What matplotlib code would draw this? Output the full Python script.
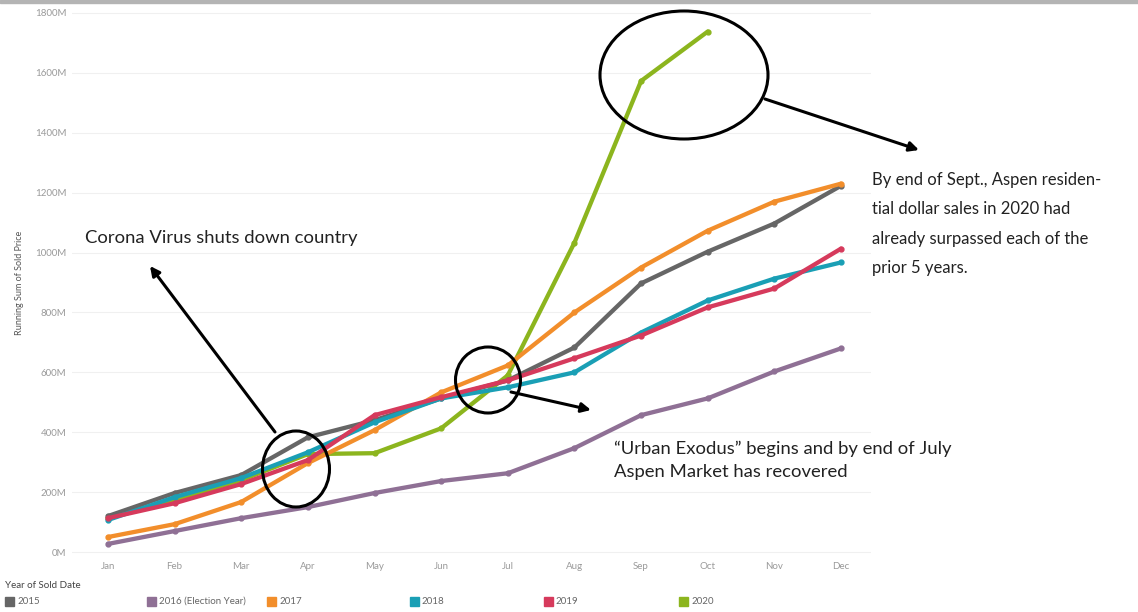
import matplotlib.pyplot as plt
from matplotlib.patches import Ellipse, Rectangle

plt.rcParams['font.family'] = ['Lato', 'DejaVu Sans']

# data (running sum of sold price, millions)
months = ['Jan', 'Feb', 'Mar', 'Apr', 'May', 'Jun', 'Jul', 'Aug', 'Sep', 'Oct', 'Nov', 'Dec']
years = ['2015', '2016 (Election Year)', '2017', '2018', '2019', '2020']
colors = ['#666666', '#8f7095', '#f28e2b', '#1a9fb5', '#d63a5c', '#8cb51e']

s2015 = [120, 197, 257, 383, 440, 513, 573, 683, 897, 1003, 1097, 1223]
s2016 = [27, 70, 113, 150, 197, 237, 263, 347, 457, 513, 603, 680]
s2017 = [50, 93, 167, 297, 407, 533, 623, 800, 950, 1073, 1170, 1230]
s2018 = [107, 183, 247, 333, 433, 513, 550, 600, 733, 840, 913, 967]
s2019 = [113, 163, 227, 307, 457, 517, 573, 647, 723, 817, 880, 1013]
s2020 = [115, 175, 240, 327, 330, 413, 590, 1033, 1573, 1738]
series = [s2015, s2016, s2017, s2018, s2019, s2020]
zorders = [3, 3, 3, 3, 3, 2]  # 2020 sits under the others early in the year

yticks = [0, 200, 400, 600, 800, 1000, 1200, 1400, 1600, 1800]

W, H = 1138, 612
fig = plt.figure(figsize=(W / 100, H / 100), dpi=100)


def px(x, y):
    # pixel position -> figure fraction
    return x / W, 1 - y / H


ax = fig.add_axes([72 / W, 1 - 556.5 / H, (871 - 72) / W, (556.5 - 4) / H])
for vals, c, z in zip(series, colors, zorders):
    ax.plot(range(len(vals)), vals, color=c, lw=3.1, marker='o', ms=3.5, zorder=z,
            solid_capstyle='round', solid_joinstyle='round')

ax.set_xlim(-0.54, 11.45)
ax.set_ylim(-15, 1830)
ax.set_xticks(range(12))
ax.set_xticklabels(months)
ax.set_yticks(yticks)
ax.set_yticklabels([f'{v}M' for v in yticks])
ax.tick_params(length=0, labelsize=7, labelcolor='#9a9a9a', pad=4)
for sp in ax.spines.values():
    sp.set_visible(False)
ax.grid(axis='y', color='#f0f0f0', lw=0.8)
ax.set_axisbelow(True)
fig.text(*px(20, 283), 'Running Sum of Sold Price', rotation=90, fontsize=6.5,
         color='#555555', ha='center', va='center')

# top bar
fig.patches.append(Rectangle((0, 1 - 3 / H), 1, 3 / H, transform=fig.transFigure,
                             color='#b4b4b4', zorder=5))

# circles
for cx, cy, w, h in [(296, 469, 67, 76), (488, 380, 65, 66), (684, 75, 168, 128)]:
    fig.patches.append(Ellipse(px(cx, cy), w / W, h / H, transform=fig.transFigure,
                               fill=False, ec='black', lw=2.2, zorder=6))

# arrows
for (x0, y0), (x1, y1) in [((275, 432), (150, 266)), ((511, 392), (591, 410)),
                           ((765, 99), (919, 150))]:
    fig.add_artist(plt.Annotation('', xy=px(x1, y1), xytext=px(x0, y0),
                                  xycoords='figure fraction', textcoords='figure fraction',
                                  arrowprops=dict(arrowstyle='-|>', color='black', lw=2.2,
                                                  mutation_scale=14, shrinkA=0, shrinkB=0)))

fig.text(*px(85, 238), 'Corona Virus shuts down country', fontsize=13.3,
         color='#222222', va='center')
fig.text(*px(872, 224), 'By end of Sept., Aspen residen-\ntial dollar sales in 2020 had\n'
         'already surpassed each of the\nprior 5 years.', fontsize=12, color='#222222',
         va='center', linespacing=2.02)
fig.text(*px(614, 460), '\u201cUrban Exodus\u201d begins and by end of July\n'
         'Aspen Market has recovered', fontsize=13.3, color='#222222', va='center',
         linespacing=1.55)

# legend
fig.text(*px(5, 586), 'Year of Sold Date', fontsize=7, color='#444444', va='center')
for xl, lab, c in zip([5, 147, 267, 410, 544, 679], years, colors):
    fig.patches.append(Rectangle(px(xl, 606), 9 / W, 9 / H, transform=fig.transFigure,
                                 color=c))
    fig.text(*px(xl + 12, 601.5), lab, fontsize=7, color='#666666', va='center')

fig.savefig('out.png', dpi=100)
